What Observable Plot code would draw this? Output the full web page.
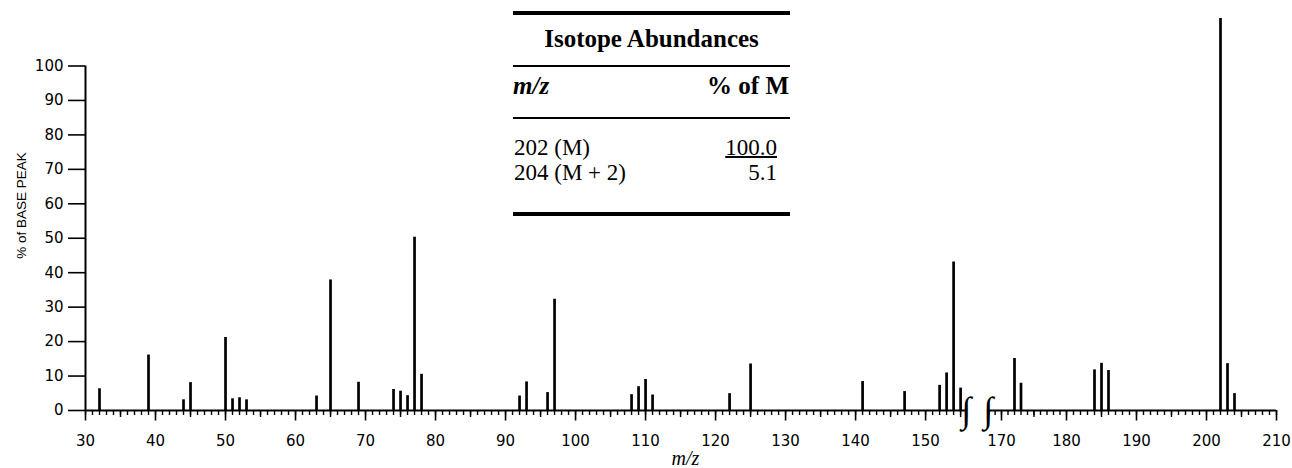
<!DOCTYPE html>
<html><head><meta charset="utf-8">
<script src="https://cdn.jsdelivr.net/npm/d3@7"></script>
<script src="https://cdn.jsdelivr.net/npm/@observablehq/plot@0.6"></script>
<style>
html,body{margin:0;padding:0;background:#fff;}
#wrap{position:relative;width:1292px;height:468px;overflow:hidden;background:#fff;}
#iso{position:absolute;left:513px;top:0;width:277px;height:220px;font-family:"Liberation Serif","Times New Roman",serif;color:#000;}
#iso .rule{position:absolute;left:0;width:277px;background:#000;}
#iso .t{position:absolute;white-space:nowrap;line-height:25.5px;font-size:23px;}
</style></head><body>
<div id="wrap"><div id="chart"></div><div id="iso"></div></div>
<script>
// m/z values and relative intensities (% of base peak)
const mz  = [32, 39, 44, 45, 50, 51, 52, 53, 63, 65, 69, 74, 75, 76, 77, 78,
             92, 93, 96, 97, 108, 109, 110, 111, 122, 125, 141, 147, 152, 153, 154, 155,
             172, 173, 184, 185, 186, 202, 203, 204];
const pct = [6.3, 16.1, 3.1, 8.1, 21.2, 3.4, 3.7, 3.1, 4.2, 37.9, 8.2, 6.1, 5.6, 4.3, 50.3, 10.5,
             4.2, 8.3, 5.2, 32.3, 4.6, 6.9, 9.0, 4.5, 4.9, 13.5, 8.4, 5.5, 7.3, 10.9, 43.1, 6.5,
             15.1, 7.9, 11.8, 13.7, 11.6, 113.8, 13.6, 4.9];
const yTicks = [0, 10, 20, 30, 40, 50, 60, 70, 80, 90, 100];
const xTickLabels = [30, 40, 50, 60, 70, 80, 90, 100, 110, 120, 130, 140, 150, 170, 180, 190, 200, 210];
// broken m/z axis: left part 30–155.7, right part 167.8–210
const xBreakDomain = [30, 155.7, 167.8, 170, 180, 210];
const isoTitle = "Isotope Abundances";
const isoHeader = ["m/z", "% of M"];
const isoMz = ["202 (M)", "204 (M + 2)"];
const isoPct = ["100.0", "5.1"];

const peaks = mz.map((m, i) => ({mz: m, pct: pct[i]}));
const minorTicks = d3.range(30, 156).concat(d3.range(168, 211));
const fiveTicks = minorTicks.filter(d => d % 5 === 0 && d % 10 !== 0);
const segs = [[xBreakDomain[0], xBreakDomain[1]], [xBreakDomain[2], xBreakDomain[xBreakDomain.length - 1]]];

const chart = Plot.plot({
  width: 1292, height: 468,
  marginLeft: 85, marginRight: 7, marginTop: 0, marginBottom: 58,
  style: {fontFamily: "DejaVu Sans", fontSize: "15px", color: "#000", background: "#fff", overflow: "visible"},
  x: {type: "linear", domain: xBreakDomain, range: [85, 965, 987, 1001, 1066, 1276]},
  y: {type: "linear", domain: [0, 100], range: [410, 65.5]},
  marks: [
    Plot.axisY(yTicks, {tickSize: 17, tickPadding: 5, strokeWidth: 1.6, label: null, fontSize: 15}),
    Plot.axisX(minorTicks, {tickSize: 5, strokeWidth: 1.4, fill: "none", label: null}),
    Plot.axisX(fiveTicks, {tickSize: 7, strokeWidth: 1.4, fill: "none", label: null}),
    Plot.axisX(xTickLabels, {tickSize: 10.5, tickPadding: 14.5, strokeWidth: 1.6, label: null, fontSize: 15}),
    Plot.ruleX([xBreakDomain[0]], {y1: 0, y2: 100, strokeWidth: 2}),
    Plot.ruleY(segs, {x1: d => d[0], x2: d => d[1], y: 0, strokeWidth: 2}),
    Plot.ruleX(peaks, {x: "mz", y1: 0, y2: "pct", strokeWidth: 2.7}),
    Plot.text([xBreakDomain[1], xBreakDomain[2]], {x: d => d, y: 0, text: () => "\u222B", fontFamily: "Liberation Serif", fontSize: 36, dx: 1}),
    Plot.text(["% of BASE PEAK"], {frameAnchor: "left", textAnchor: "middle", rotate: -90, dx: -64, fontFamily: "Liberation Sans", fontSize: 13.5}),
    Plot.text(["m/z"], {frameAnchor: "bottom", dy: 54, fontStyle: "italic", fontFamily: "Liberation Serif", fontSize: 20})
  ]
});
document.getElementById("chart").appendChild(chart);

// isotope abundance table (overlay)
const iso = document.getElementById("iso");
function add(cls, css, txt) {
  const el = document.createElement("div");
  el.className = cls;
  el.style.cssText = css;
  if (txt !== undefined) el.textContent = txt;
  iso.appendChild(el);
  return el;
}
add("rule", "top:11px;height:3.5px;");
add("t", "top:25.5px;left:0;width:277px;text-align:center;font-weight:bold;font-size:25px;line-height:25px;", isoTitle);
add("rule", "top:65px;height:2px;");
add("t", "top:73px;left:0;font-weight:bold;font-style:italic;font-size:25px;line-height:25px;", isoHeader[0]);
add("t", "top:73px;right:1px;font-weight:bold;font-size:25px;line-height:25px;", isoHeader[1]);
add("rule", "top:116.5px;height:2px;");
const colMz = add("t", "top:134.5px;left:1px;");
isoMz.forEach((t, i) => {
  if (i) colMz.appendChild(document.createElement("br"));
  colMz.appendChild(document.createTextNode(t));
});
const colPct = add("t", "top:134.5px;right:13px;text-align:right;");
isoPct.forEach((t, i) => {
  if (i) colPct.appendChild(document.createElement("br"));
  const s = document.createElement("span");
  s.textContent = t;
  if (i === 0) { s.style.textDecoration = "underline"; s.style.textDecorationThickness = "1.5px"; }
  colPct.appendChild(s);
});
add("rule", "top:211.5px;height:4px;");
</script>
</body></html>
